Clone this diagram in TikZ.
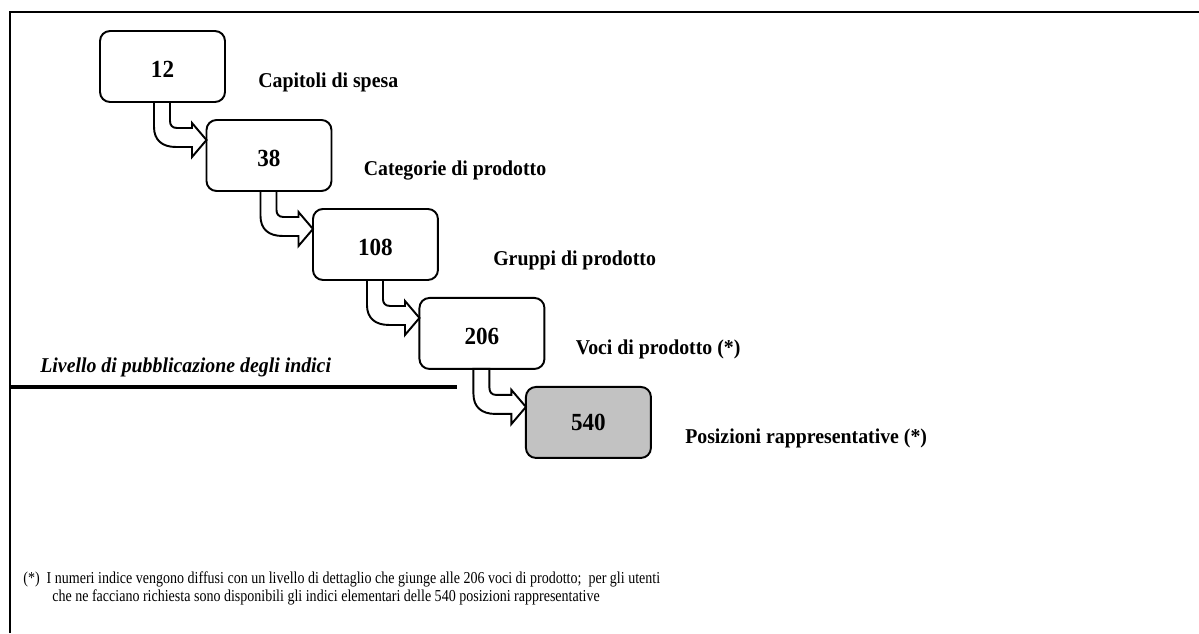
\documentclass[tikz,border=0pt]{standalone}
\usepackage{fontspec}
\setmainfont{Liberation Serif}[FakeStretch=0.94]
\newfontfamily\notefont{Liberation Serif}[FakeStretch=0.84]
\usepackage{tikz}
\usetikzlibrary{positioning}
\tikzstyle{level} = [rectangle, draw, line width=1.1pt, rounded corners=0.2cm, fill=white,
    minimum width=2.5cm, minimum height=1.42cm, inner sep=0pt, outer sep=0pt,
    text height=0.44cm, text depth=0cm, font=\fontsize{14}{16}\selectfont\bfseries]
\tikzstyle{levelsample} = [level, fill=black!24, text height=0.32cm]
\tikzstyle{tag} = [inner sep=0pt, font=\fontsize{12}{14}\selectfont\bfseries]
\tikzstyle{flow} = [draw, line width=1.1pt, fill=white, line join=miter]
\tikzstyle{note} = [inner sep=0pt, align=left, font=\notefont\fontsize{9.5}{10.3}\selectfont]
% bent block arrow from one level to the next
\newcommand{\flowarrow}[2]{%
  \path[flow, shift={(#1.south west)}] (54,0) -- (54,25)
    .. controls (54,38) and (62,45) .. (76,45) -- (92,45) -- (92,55)
    -- ([yshift=-0.4cm]#2.north west) -- (92,21) -- (92,26) -- (77,26)
    .. controls (72,26) and (70,23) .. (70,19) -- (70,0) -- cycle;}

\begin{document}
\begin{tikzpicture}[x=0.02cm, y=-0.02cm, node distance=0.36cm and -0.37cm]
  \useasboundingbox (0,0) rectangle (1199,633);
  % frame
  \draw[line width=0.6pt] (10,633) -- (10,12) -- (1199,12);
  % levels
  \node [level] (c12) at (162.5,66.5) {12};
  \node [level, below right=of c12] (c38) {38};
  \node [level, below right=of c38] (c108) {108};
  \node [level, below right=of c108] (c206) {206};
  \node [levelsample, below right=of c206] (c540) {540};
  % names
  \node [tag, right=0.66cm of c12.south east, yshift=0.4cm] (t12) {Capitoli di spesa};
  \node [tag, right=0.64cm of c38.south east, yshift=0.4cm] (t38) {Categorie di prodotto};
  \node [tag, right=1.1cm of c108.south east, yshift=0.4cm] (t108) {Gruppi di prodotto};
  \node [tag, right=0.62cm of c206.south east, yshift=0.4cm] (t206) {Voci di prodotto (*)};
  \node [tag, right=0.68cm of c540.south east, yshift=0.4cm] (t540) {Posizioni rappresentative (*)};
  % arrows
  \flowarrow{c12}{c38}
  \flowarrow{c38}{c108}
  \flowarrow{c108}{c206}
  \flowarrow{c206}{c540}
  % publication level
  \node [tag, anchor=west, font=\fontsize{12}{14}\selectfont\bfseries\itshape] (pub) at (40,367)
    {Livello di pubblicazione degli indici};
  \coordinate (cut-l) at (10,387);
  \coordinate (cut-r) at (457,387);
  \draw [line width=2pt] (cut-l) -- (cut-r);
  % footnote
  \node [note, anchor=north west] (fn) at (23,571)
    {(*)\ \ I numeri indice vengono diffusi con un livello di dettaglio che giunge alle 206 voci di prodotto;\ \ per gli utenti\\
     \hspace*{0.58cm}che ne facciano richiesta sono disponibili gli indici elementari delle 540 posizioni rappresentative};
\end{tikzpicture}
\end{document}
